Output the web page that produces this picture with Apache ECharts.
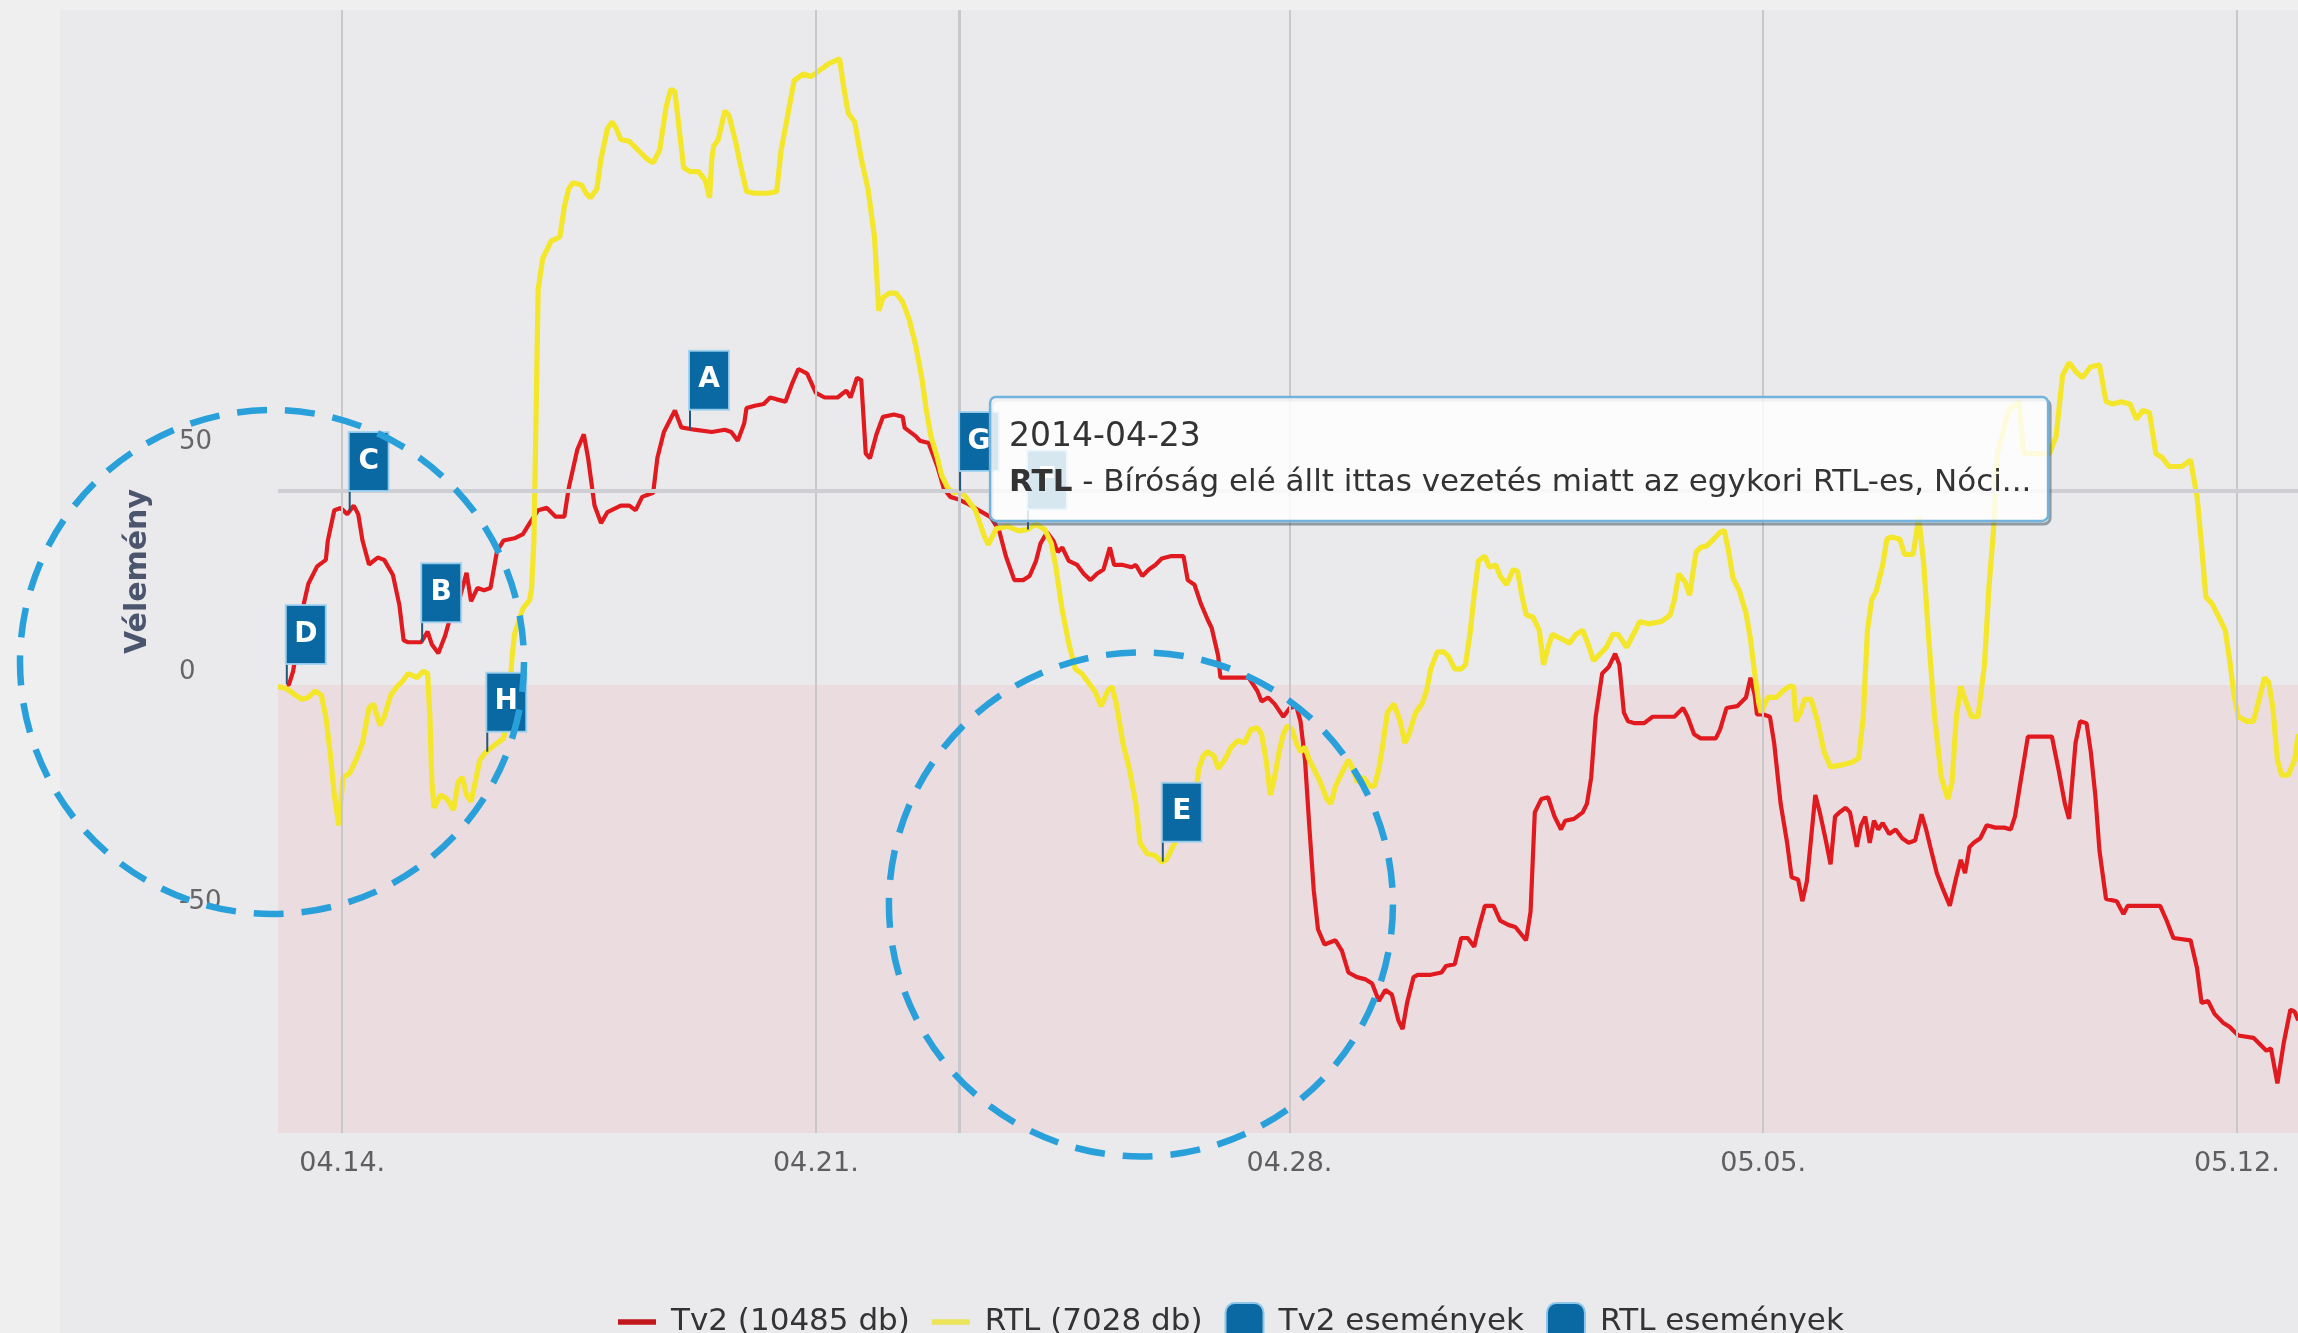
<!DOCTYPE html>
<html><head><meta charset="utf-8">
<script src="https://cdn.jsdelivr.net/npm/echarts@6/dist/echarts.min.js"></script>
<style>
html,body{margin:0;padding:0;background:#efefef;width:2298px;height:1333px;overflow:hidden}
#bgpanel{position:absolute;left:60px;top:10px;width:2238px;height:1323px;background:#eaeaec}
#chart{position:absolute;left:0;top:0;width:2298px;height:1333px}
</style></head><body>
<div id="bgpanel"></div><div id="chart"></div>
<script>
// ---- data (hours after 2014-04-13 00:00 UTC) ----
const BASE = Date.UTC(2014, 3, 13, 0, 0, 0);
const H = 3600 * 1000;

const tv2Hours = [4.3,5.1,6.6,10.5,12.0,15.1,18.2,18.9,21.2,23.5,25.8,28.1,29.7,31.2,33.5,36.6,38.9,42.0,44.3,45.8,47.4,52.0,54.3,55.8,58.1,60.5,62.0,64.3,65.8,68.1,69.7,72.0,74.3,76.6,78.9,81.2,85.1,88.1,90.5,93.5,96.6,99.7,102.8,104.3,107.4,109.7,111.2,113.5,115.8,118.1,122.8,125.8,128.1,130.4,134.3,135.8,138.1,142.0,144.3,148.9,155.1,159.7,162.0,164.3,166.6,167.4,170.4,173.5,175.8,178.1,181.2,183.5,185.8,188.9,192.0,195.1,199.7,202.8,204.3,206.6,208.1,209.7,211.2,213.5,215.8,219.7,222.8,223.5,227.4,228.9,232.0,235.1,237.4,239.7,242.4,245.5,254.0,257.0,259.4,262.4,265.5,267.8,270.1,271.7,274.0,276.3,277.8,279.4,281.7,284.7,287.0,289.4,291.7,294.0,296.3,297.8,300.9,304.0,305.5,307.8,310.1,312.4,314.7,317.8,322.4,323.9,326.3,328.6,330.9,332.4,334.7,335.5,345.5,348.6,350.1,352.4,354.7,357.8,360.1,362.4,363.9,365.5,367.0,368.6,370.1,372.4,376.3,378.6,380.9,383.9,387.0,389.3,391.7,394.0,396.3,398.6,400.1,401.7,404.0,405.5,410.1,413.9,415.5,418.6,420.9,423.2,425.5,427.0,429.3,432.4,434.7,437.8,440.1,443.9,445.5,447.0,449.3,451.7,454.0,456.3,457.8,460.9,464.0,465.5,467.0,468.6,470.9,473.2,475.5,477.0,478.6,480.1,482.4,485.8,488.8,496.5,499.6,501.2,503.5,505.8,511.2,512.7,515.0,518.8,521.9,523.5,525.0,525.8,528.1,530.4,531.9,534.2,536.5,538.1,540.4,541.9,543.5,545.0,546.5,548.1,550.4,551.9,553.5,555.0,557.3,558.8,561.2,562.7,564.2,565.8,567.3,568.8,570.4,572.7,575.0,577.3,579.6,581.9,584.2,585.8,587.3,589.6,591.9,594.2,596.5,598.1,599.6,601.2,602.7,605.0,607.3,610.4,613.5,615.8,617.3,618.8,621.9,630.4,632.7,635.0,636.5,638.8,640.4,642.7,644.2,645.8,647.3,649.6,653.4,655.8,657.3,668.8,671.1,673.5,679.6,681.9,683.5,685.8,688.1,691.1,693.4,696.5,701.9,704.2,706.5,708.1,710.4,712.7,715.0,716.5,717.8];
const tv2Values = [0.0,0.1,3.0,18.0,22.0,25.8,27.2,31.4,38.0,38.5,37.1,39.0,37.1,31.4,26.2,27.7,27.2,23.9,17.3,9.7,9.3,9.3,11.6,8.8,6.9,10.7,14.0,14.9,19.2,24.4,18.2,21.1,20.6,21.1,29.1,31.4,31.9,32.8,35.2,38.0,38.5,36.6,36.6,42.7,51.2,54.5,49.4,39.0,35.2,37.6,39.0,39.0,38.0,40.9,41.8,49.4,55.0,59.7,56.0,55.5,55.0,55.5,55.0,53.1,56.9,60.2,60.7,61.1,62.5,62.1,61.6,65.4,68.7,67.7,63.5,62.5,62.5,64.0,62.5,66.8,66.3,50.3,49.3,54.5,58.3,58.8,58.3,55.9,54.1,53.1,52.6,47.5,42.7,40.9,40.4,39.5,36.5,33.6,28.0,22.8,22.8,23.7,27.0,30.8,33.2,31.3,28.9,29.9,27.0,26.1,24.2,22.8,24.2,25.1,29.9,26.1,26.1,25.6,26.1,23.7,25.1,26.1,27.5,28.0,28.0,22.8,21.8,17.6,14.3,12.4,6.3,1.6,1.6,-1.3,-3.6,-2.7,-4.1,-6.9,-5.0,-4.6,-7.9,-16.3,-30.5,-44.6,-53.1,-56.4,-55.5,-57.8,-62.5,-63.5,-64.0,-64.9,-68.7,-66.3,-67.3,-72.9,-74.8,-69.1,-63.5,-63.0,-63.0,-62.5,-61.1,-60.7,-55.0,-55.0,-56.9,-53.1,-48.0,-48.0,-51.2,-52.2,-52.6,-55.5,-49.3,-27.7,-24.8,-24.4,-28.6,-31.4,-29.5,-29.1,-27.7,-25.8,-20.1,-6.9,2.5,3.9,6.8,4.4,-6.0,-7.9,-8.3,-8.3,-6.9,-6.9,-5.0,-6.9,-10.7,-11.6,-11.6,-9.7,-5.0,-4.6,-2.7,1.6,-2.2,-6.4,-6.4,-6.9,-12.6,-25.8,-34.3,-41.8,-42.3,-47.0,-42.7,-33.3,-23.9,-27.7,-34.3,-39.0,-28.6,-27.7,-26.7,-27.7,-35.2,-30.5,-28.6,-34.3,-29.5,-31.4,-30.0,-32.4,-31.4,-33.3,-34.3,-33.8,-28.1,-31.4,-35.2,-40.9,-44.6,-48.0,-41.8,-38.0,-40.9,-35.2,-34.3,-33.3,-30.5,-31.0,-31.0,-31.4,-28.6,-22.9,-11.2,-11.2,-18.2,-25.8,-29.1,-12.6,-7.9,-8.3,-14.5,-23.9,-36.1,-46.5,-47.0,-49.8,-48.0,-48.0,-51.2,-55.0,-55.5,-61.6,-69.1,-68.7,-71.5,-73.4,-74.3,-76.2,-76.7,-78.1,-79.5,-79.0,-86.6,-77.6,-70.6,-71.0,-72.9];

const rtlHours = [1.2,4.3,7.4,9.7,12.0,14.3,16.6,18.2,19.7,21.2,22.8,24.3,26.6,28.9,31.2,33.5,35.1,37.4,38.9,41.2,43.5,45.1,47.4,50.5,52.8,54.3,55.1,55.8,56.6,58.9,61.2,63.5,65.1,66.6,68.1,69.7,71.2,72.8,75.1,78.2,81.2,82.8,83.5,84.3,85.1,86.6,88.1,90.5,91.2,92.0,92.8,93.5,95.1,98.1,101.2,102.8,104.3,105.8,108.9,110.5,112.0,114.3,115.8,118.1,119.7,121.2,122.8,125.8,128.9,132.0,134.3,136.6,138.9,140.5,142.0,143.5,145.1,147.4,150.4,152.8,154.3,155.1,155.8,157.4,159.7,161.2,163.5,165.1,167.4,170.4,175.1,178.1,179.7,182.0,184.3,187.4,190.4,193.5,196.6,200.4,202.0,203.5,205.8,208.1,210.5,212.8,214.3,215.8,218.1,220.4,222.8,225.1,227.4,229.7,231.2,232.8,235.1,236.6,238.9,241.2,242.8,245.0,248.6,251.7,253.2,256.0,260.0,264.0,267.0,270.0,273.2,275.5,277.0,279.3,281.7,284.0,286.3,288.6,290.9,293.2,295.5,297.0,298.6,300.9,303.2,305.5,307.0,309.4,312.4,314.7,316.3,326.3,327.8,329.4,330.9,333.2,334.7,337.0,339.3,341.7,344.0,346.3,348.6,350.1,351.7,353.2,354.7,356.3,357.8,359.3,360.9,362.4,364.0,365.5,367.0,368.6,370.9,373.2,374.7,376.3,377.8,379.3,380.9,382.4,384.0,386.3,388.6,390.1,391.7,393.2,394.7,397.0,399.3,400.9,402.4,404.7,407.0,408.6,410.1,412.4,414.7,416.3,418.6,420.9,422.4,424.0,425.5,427.0,429.3,430.9,433.2,434.7,437.0,439.3,440.9,442.4,444.0,446.3,448.6,450.1,451.7,453.2,456.3,459.3,461.6,464.0,466.3,467.8,470.1,472.4,474.7,476.5,479.6,482.7,484.2,487.3,491.9,495.0,496.5,498.1,500.4,501.9,504.2,505.8,508.1,510.4,512.7,514.2,515.8,517.3,519.6,521.9,523.5,525.0,526.5,527.3,529.6,532.7,535.0,537.3,538.8,539.6,541.2,542.7,545.0,547.3,549.6,551.9,556.5,559.6,561.9,563.5,565.0,566.5,568.1,570.4,571.9,573.5,576.5,578.1,581.2,583.2,585.0,586.5,588.8,591.2,593.5,595.0,596.5,598.1,599.6,601.9,604.2,606.5,608.1,609.6,611.1,615.0,618.8,620.4,629.6,631.9,634.2,636.5,638.8,641.2,644.2,647.3,649.6,651.9,655.0,658.1,660.4,662.7,665.0,667.3,669.6,671.9,676.5,679.6,681.9,683.5,685.0,687.3,689.6,691.9,693.5,695.0,696.5,699.6,701.9,703.5,705.8,707.3,708.8,710.4,711.9,714.2,716.5,717.8];
const rtlValues = [-0.3,-0.8,-2.2,-3.1,-2.7,-1.3,-2.2,-6.9,-14.5,-23.9,-30.5,-20.1,-19.2,-16.3,-12.6,-5.0,-4.1,-8.8,-6.9,-2.2,-0.3,0.6,2.5,1.6,3.0,2.5,-6.9,-21.1,-26.7,-23.9,-24.8,-27.2,-21.1,-20.1,-23.9,-25.3,-21.1,-16.3,-14.5,-13.0,-11.6,-6.9,-0.3,6.3,11.0,13.8,16.6,18.5,21.1,31.4,59.7,86.0,92.7,96.5,97.4,104.0,107.8,109.2,108.7,106.9,105.9,107.8,114.4,121.0,122.4,121.0,118.6,118.2,116.3,114.4,113.5,116.3,125.7,129.5,129.0,121.0,112.5,111.6,111.6,109.7,105.9,114.4,117.2,118.6,124.8,123.8,118.2,113.5,107.3,106.9,106.9,107.3,116.3,123.8,131.4,132.8,132.3,133.7,135.1,136.1,129.5,124.3,122.4,114.4,107.8,97.4,81.4,84.2,85.2,85.2,83.3,79.5,73.9,66.3,59.7,54.1,49.4,45.6,42.7,41.8,42.2,41.0,38.0,32.4,30.5,34.0,34.5,33.5,33.8,35.0,33.8,30.8,26.1,16.6,9.1,3.5,2.5,0.6,-1.3,-4.6,-1.3,-0.3,-4.1,-12.6,-18.2,-25.8,-34.3,-36.6,-37.1,-38.5,-38.0,-25.8,-18.2,-15.4,-14.5,-15.4,-18.2,-16.3,-13.5,-12.1,-12.6,-9.7,-9.3,-10.7,-16.3,-23.9,-20.1,-14.5,-10.7,-8.8,-9.7,-12.6,-14.5,-13.5,-16.3,-18.2,-21.1,-24.8,-25.8,-22.0,-20.1,-18.2,-16.3,-18.2,-21.1,-20.1,-22.0,-22.0,-18.2,-12.6,-6.0,-4.1,-7.9,-12.6,-10.7,-6.0,-4.1,-1.3,3.5,7.2,7.2,6.3,3.5,3.5,4.4,11.0,19.5,27.0,28.0,25.6,26.1,23.7,21.8,25.1,24.7,19.5,15.2,14.8,11.9,4.4,8.2,11.0,10.1,9.1,11.0,11.9,8.2,5.3,6.7,8.2,11.0,11.0,8.2,11.9,13.8,13.3,13.8,15.2,18.5,24.2,22.3,19.5,28.9,29.9,30.3,31.7,33.2,33.6,28.9,23.3,20.4,15.7,10.0,2.5,-4.1,-6.0,-2.7,-2.7,-1.3,-0.3,-0.3,-7.9,-6.0,-3.1,-3.1,-7.9,-14.5,-17.8,-17.3,-16.8,-15.9,-6.9,11.9,18.5,20.4,26.1,31.7,32.2,31.7,28.4,28.4,36.5,26.1,11.9,-6.9,-20.1,-24.8,-21.1,-6.9,-0.3,-3.1,-6.9,-6.9,4.4,21.4,32.7,50.3,59.7,61.6,50.3,50.3,54.1,67.3,70.1,68.2,66.8,69.2,69.6,61.6,61.1,61.6,61.1,57.8,59.7,59.2,50.3,49.4,47.5,47.5,48.9,40.9,30.5,19.2,17.6,14.8,11.9,5.3,-2.2,-6.9,-7.9,-7.9,-4.1,1.6,0.6,-5.0,-16.3,-19.6,-19.6,-16.3,-10.7];

const tv2FlagHours = [4.0, 26.3, 52.0, 147.0];
const tv2FlagValues = [0.2, 37.8, 9.3, 55.5];
const tv2FlagLetters = ['D', 'C', 'B', 'A'];
const rtlFlagHours = [75.1, 242.8, 266.9, 314.7];
const rtlFlagValues = [-14.5, 42.2, 33.8, -38.4];
const rtlFlagLetters = ['H', 'G', 'F', 'E'];

const xTickHours = [24, 192, 360, 528, 696];
const xTickLabels = ['04.14.', '04.21.', '04.28.', '05.05.', '05.12.'];
const yTickValues = [-50, 0, 50];
const legendNames = ['Tv2 (10485 db)', 'RTL (7028 db)', 'Tv2 események', 'RTL események'];

const tooltipDate = '2014-04-23';
const tooltipSeries = 'RTL';
const tooltipText = 'Bíróság elé állt ittas vezetés miatt az egykori RTL-es, Nóci...';
const hoverHour = 242.8, hoverValue = 42.2;

const circleHours = [-0.9, 307.3];
const circleValues = [5.0, -47.7];

// ---- chart ----
const X_MIN = BASE + 1.227 * H, X_MAX = BASE + 717.7 * H;
const Y_MIN = -97.39, Y_MAX = 146.74;
const FONT = '"DejaVu Sans", sans-serif';
const RED = '#e01a1f', YEL = '#f4e62b', FLAG = '#0a69a2';

const pairs = (hs, vs) => hs.map((h, i) => [BASE + h * H, vs[i]]);

function flagRenderer(letters) {
  return function (params, api) {
    const p = api.coord([api.value(0), api.value(1)]);
    const w = 40, h = 59, gap = 20;
    const L = letters[params.dataIndex];
    return {
      type: 'group',
      children: [
        { type: 'line', shape: { x1: p[0] + 1, y1: p[1] - gap, x2: p[0] + 1, y2: p[1] },
          style: { stroke: '#24577a', lineWidth: 2 } },
        { type: 'rect', shape: { x: p[0], y: p[1] - gap - h, width: w, height: h },
          style: { fill: FLAG, stroke: 'rgba(160,210,240,0.9)', lineWidth: 2 } },
        { type: 'text', x: p[0] + w / 2, y: p[1] - gap - h / 2,
          style: { text: L, fill: '#ffffff', font: 'bold 28px ' + FONT, align: 'center', verticalAlign: 'middle' } }
      ]
    };
  };
}

const chart = echarts.init(document.getElementById('chart'), null, { renderer: 'canvas', width: 2298, height: 1333 });

const option = {
  animation: false,
  backgroundColor: 'transparent',
  grid: { left: 278, right: 0, top: 10, bottom: 200, containLabel: false, outerBoundsMode: 'none' },
  xAxis: {
    type: 'value', min: X_MIN, max: X_MAX,
    axisLine: { show: false }, axisTick: { show: false }, splitLine: { show: false },
    axisLabel: {
      customValues: xTickHours.map(h => BASE + h * H),
      formatter: v => { const i = xTickHours.findIndex(h => Math.abs(BASE + h * H - v) < 60000); return i >= 0 ? xTickLabels[i] : ''; },
      fontFamily: FONT, fontSize: 27, color: '#5e5e5e', margin: 17
    }
  },
  yAxis: {
    type: 'value', min: Y_MIN, max: Y_MAX,
    axisLine: { show: false }, axisTick: { show: false }, splitLine: { show: false },
    axisLabel: { customValues: yTickValues, align: 'left', verticalAlign: 'bottom', margin: 99,
      fontFamily: FONT, fontSize: 26, color: '#666666' },
    name: 'Vélemény', nameLocation: 'middle', nameRotate: 90, nameGap: 125,
    nameTextStyle: { fontFamily: FONT, fontWeight: 'bold', fontSize: 30, color: '#4b566e' }
  },
  legend: {
    left: 613, top: 1297, itemWidth: 38, itemHeight: 38, itemGap: 22,
    textStyle: { fontFamily: FONT, fontSize: 31, color: '#333333', padding: [0, 0, 0, 10] },
    data: [
      { name: legendNames[0], icon: 'path://M0,17L40,17L40,23L0,23Z', itemStyle: { color: '#c0161c' } },
      { name: legendNames[1], icon: 'path://M0,17L40,17L40,23L0,23Z', itemStyle: { color: '#ece45a' } },
      { name: legendNames[2], icon: 'roundRect', itemStyle: { color: FLAG, borderColor: '#8cc6ea', borderWidth: 2 } },
      { name: legendNames[3], icon: 'roundRect', itemStyle: { color: FLAG, borderColor: '#8cc6ea', borderWidth: 2 } }
    ]
  },
  series: [
    {
      type: 'line', name: 'bg', data: [], silent: true, z: 1,
      markArea: { silent: true, itemStyle: { color: 'rgba(236,200,206,0.42)' },
        data: [[{ yAxis: 0 }, { yAxis: Y_MIN }]] },
      markLine: {
        silent: true, symbol: ['none', 'none'], label: { show: false }, animation: false,
        data: xTickHours.map(h => ({ xAxis: BASE + h * H, lineStyle: { color: '#c8c8cb', width: 2, type: 'solid' } }))
          .concat([
            { xAxis: BASE + hoverHour * H, lineStyle: { color: '#c8c8cc', width: 3, type: 'solid' } },
            { yAxis: hoverValue, lineStyle: { color: '#cfcfd3', width: 4, type: 'solid' } }
          ])
      }
    },
    { type: 'line', name: legendNames[0], data: pairs(tv2Hours, tv2Values), symbol: 'none', z: 3,
      lineStyle: { color: RED, width: 4.2 }, itemStyle: { color: RED } },
    { type: 'line', name: legendNames[1], data: pairs(rtlHours, rtlValues), symbol: 'none', z: 4,
      lineStyle: { color: YEL, width: 5.2 }, itemStyle: { color: YEL } },
    { type: 'custom', name: legendNames[2], data: pairs(tv2FlagHours, tv2FlagValues), z: 6,
      renderItem: flagRenderer(tv2FlagLetters), itemStyle: { color: FLAG } },
    { type: 'custom', name: legendNames[3], data: pairs(rtlFlagHours, rtlFlagValues), z: 6,
      renderItem: flagRenderer(rtlFlagLetters), itemStyle: { color: FLAG } }
  ]
};
chart.setOption(option);

// ---- overlays anchored to data coordinates ----
const hp = chart.convertToPixel({ gridIndex: 0 }, [BASE + hoverHour * H, hoverValue]);
const tipX = hp[0] + 31, tipY = hp[1] - 94, tipW = 1058, tipH = 124;
const graphics = [
  { type: 'rect', z: 99, shape: { x: tipX + 2, y: tipY + 3, width: tipW, height: tipH, r: 6 },
    style: { fill: 'none', stroke: 'rgba(70,90,105,0.55)', lineWidth: 3 } },
  { type: 'rect', z: 100, shape: { x: tipX, y: tipY, width: tipW, height: tipH, r: 6 },
    style: { fill: 'rgba(255,255,255,0.84)', stroke: '#72b3de', lineWidth: 2.5 } },
  { type: 'text', z: 101, x: tipX + 19, y: tipY + 41,
    style: { text: tooltipDate, font: '33px ' + FONT, fill: '#333333', verticalAlign: 'middle' } },
  { type: 'text', z: 101, x: tipX + 19, y: tipY + 86,
    style: { text: '{b|' + tooltipSeries + '} - ' + tooltipText, font: '31px ' + FONT, fill: '#333333', verticalAlign: 'middle',
      rich: { b: { fontWeight: 'bold', fontSize: 31, fontFamily: FONT, fill: '#333333' } } } }
];
circleHours.forEach((h, i) => {
  const c = chart.convertToPixel({ gridIndex: 0 }, [BASE + h * H, circleValues[i]]);
  graphics.push({ type: 'circle', z: 200, shape: { cx: c[0], cy: c[1], r: 252 },
    style: { fill: 'none', stroke: '#29a0da', lineWidth: 6.5, lineDash: [30, 18] } });
});
chart.setOption({ graphic: graphics });
</script></body></html>
